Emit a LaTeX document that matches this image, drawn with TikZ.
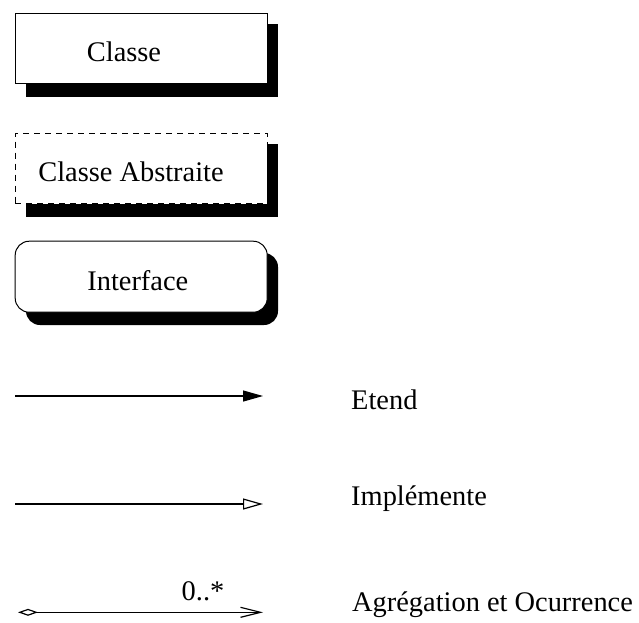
\documentclass[tikz,border=0pt]{standalone}
\usepackage{fontspec}
\setmainfont{Liberation Serif}
\usetikzlibrary{arrows.meta}
\begin{document}
\begin{tikzpicture}[x=1pt,y=-1pt,
  font=\fontsize{28.4}{34}\selectfont,
  shade box/.style={fill=black},
  umlbox/.style={draw=black, fill=white, line width=1pt, inner sep=0pt,
    minimum width=252pt, minimum height=70.6pt, anchor=north west},
  lbl/.style={anchor=base, inner sep=0pt},
  lblw/.style={anchor=base west, inner sep=0pt},
  conn/.style={line width=1.2pt}]
\useasboundingbox (0,0) rectangle (639,622);
% Classe
\fill[shade box] (26,24) rectangle (278,96.7);
\node[umlbox] (classe) at (14.7,12.7) {};
\node[lbl] (classeT) at (124,61.7) {Classe};
% Classe Abstraite
\fill[shade box] (26,144) rectangle (278,216.7);
\node[umlbox, dash pattern=on 6pt off 5pt] (abstr) at (14.7,132.7) {};
\node[lbl] (abstrT) at (131,181) {Classe Abstraite};
% Interface
\fill[shade box, rounded corners=14pt] (26,253) rectangle (278,325);
\node[umlbox, rounded corners=14pt, minimum height=71pt] (inter) at (14.7,240.7) {};
\node[lbl] (interT) at (137.8,290) {Interface};
% Etend
\coordinate (e1) at (15,396);
\coordinate (e2) at (263,396);
\draw[conn,-{Triangle[length=20pt,width=11pt]}] (e1) -- (e2);
\node[lblw] (etend) at (351,409.3) {Etend};
% Implemente
\coordinate (i1) at (15,504);
\coordinate (i2) at (263,504);
\draw[conn,-{Triangle[open,length=20pt,width=11pt]}] (i1) -- (i2);
\node[lblw] (impl) at (351,505.7) {Implémente};
% Agregation
\coordinate (a1) at (18,612.3);
\coordinate (a2) at (263,612.3);
\draw[conn,{Diamond[open,length=20pt,width=7pt]}-{Straight Barb[length=20pt,width=10pt]}] (a1) -- (a2);
\node[lbl] (mult) at (203,600.7) {0..*};
\node[lblw] (agreg) at (352,611.7) {Agrégation et Ocurrence};
\end{tikzpicture}
\end{document}
